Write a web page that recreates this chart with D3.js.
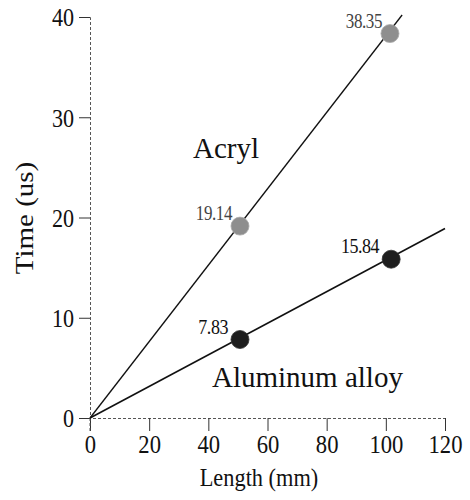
<!DOCTYPE html>
<html><head><meta charset="utf-8">
<script src="https://cdn.jsdelivr.net/npm/d3@7"></script>
<style>
body{margin:0;background:#fff;}
text{font-family:"Liberation Serif","Times New Roman",serif;}
</style></head>
<body><svg id="c" width="470" height="500"></svg>
<script>
// data
const xTicks = [0, 20, 40, 60, 80, 100, 120];
const yTicks = [0, 10, 20, 30, 40];
const acrylX = [50.7, 101.4];
const acrylY = [19.14, 38.35];
const alumX = [50.7, 101.8];
const alumY = [7.83, 15.84];
const acrylFit = [[0, 0], [105.5, 40.2]];
const alumFit = [[0, 0], [120, 18.9]];
const seriesNames = ["Acryl", "Aluminum alloy"];

const svg = d3.select("#c");
const x = d3.scaleLinear().domain([0, 120]).range([90, 445]);
const y = d3.scaleLinear().domain([0, 40]).range([418, 17]);

// horizontal condensing helper (scan is compressed horizontally)
function condense(sel, k) {
  sel.each(function() {
    const t = d3.select(this);
    const tx = +t.attr("x") || 0, ty = +t.attr("y") || 0;
    t.attr("transform", `translate(${tx},${ty}) scale(${k},1) translate(${-tx},${-ty})`);
  });
}

// axes
const xa = svg.append("g").attr("transform", `translate(0,${y(0)})`)
  .call(d3.axisBottom(x).tickValues(xTicks).tickSize(13).tickPadding(2).tickFormat(d3.format("d")));
const ya = svg.append("g").attr("transform", `translate(${x(0)},0)`)
  .call(d3.axisLeft(y).tickValues(yTicks).tickSize(11).tickPadding(5).tickFormat(d3.format("d")));
[xa, ya].forEach(g => {
  g.select(".domain").attr("stroke", "#555").attr("stroke-dasharray", "3,2").attr("stroke-width", 1);
  g.selectAll(".tick line").attr("stroke", "#333");
  g.selectAll(".tick text").attr("fill", "#111").style("font-size", "26px")
   .style("font-family", '"Liberation Serif",serif');
});
xa.selectAll(".tick text").attr("dy", "0.78em");
ya.selectAll(".tick text").attr("dy", "0.34em");
condense(xa.selectAll(".tick text"), 0.87);
condense(ya.selectAll(".tick text"), 0.85);
// extend y axis below x axis
svg.append("line").attr("x1", x(0)).attr("x2", x(0)).attr("y1", y(0)).attr("y2", y(0) + 14)
  .attr("stroke", "#555").attr("stroke-dasharray", "3,2");

// axis titles
const xt = svg.append("text").attr("x", 259).attr("y", 486).attr("text-anchor", "middle")
  .style("font-size", "26px").attr("fill", "#111").text("Length (mm)");
condense(xt, 0.86);
svg.append("text").attr("transform", "translate(33,218) rotate(-90) scale(1,0.85)").attr("text-anchor", "middle")
  .style("font-size", "29px").attr("fill", "#111").text("Time (us)");

// fit lines
const line = d3.line().x(d => x(d[0])).y(d => y(d[1]));
svg.append("path").attr("d", line(acrylFit)).attr("fill", "none").attr("stroke", "#111").attr("stroke-width", 1.3);
svg.append("path").attr("d", line(alumFit)).attr("fill", "none").attr("stroke", "#111").attr("stroke-width", 1.6);

// points
const acryl = acrylX.map((v, i) => ({x: v, y: acrylY[i]}));
const alum = alumX.map((v, i) => ({x: v, y: alumY[i]}));
svg.selectAll(".pa").data(acryl).enter().append("circle")
  .attr("cx", d => x(d.x)).attr("cy", d => y(d.y)).attr("r", 9)
  .attr("fill", "#8e8e8e").attr("stroke", "#aaa").attr("stroke-width", 0.8);
svg.selectAll(".pb").data(alum).enter().append("circle")
  .attr("cx", d => x(d.x)).attr("cy", d => y(d.y)).attr("r", 9)
  .attr("fill", "#1e1e1e").attr("stroke", "#333").attr("stroke-width", 0.8);

// value labels
const la = svg.selectAll(".la").data(acryl).enter().append("text")
  .attr("x", d => x(d.x) - 8).attr("y", d => y(d.y) - 6).attr("text-anchor", "end")
  .style("font-size", "20px").attr("fill", "#444").attr("letter-spacing", "-0.5")
  .text(d => d.y.toFixed(2));
condense(la, 0.85);
const lb = svg.selectAll(".lb").data(alum).enter().append("text")
  .attr("x", d => x(d.x) - 12).attr("y", d => y(d.y) - 6).attr("text-anchor", "end")
  .style("font-size", "20px").attr("fill", "#111").attr("letter-spacing", "-0.5")
  .text(d => d.y.toFixed(2));
condense(lb, 0.9);

// series labels
svg.append("text").attr("x", 193).attr("y", 158).style("font-size", "29px").attr("fill", "#111").text(seriesNames[0]);
svg.append("text").attr("x", 212).attr("y", 387).style("font-size", "29px").attr("fill", "#111").text(seriesNames[1]);
</script></body></html>
